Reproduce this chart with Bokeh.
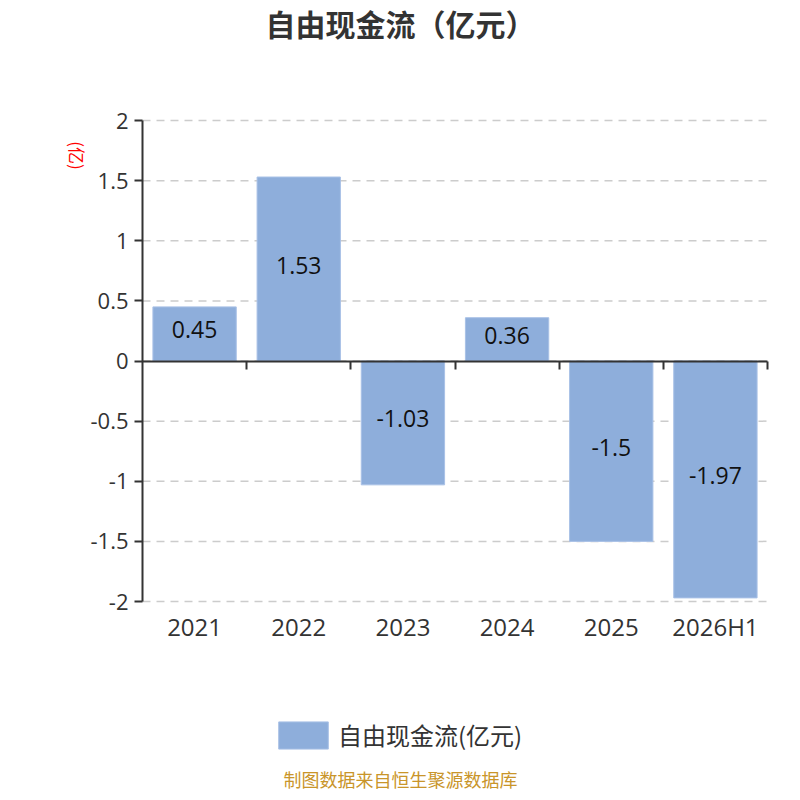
from bokeh.plotting import figure
from bokeh.models import (ColumnDataSource, Range1d, FixedTicker, LinearAxis,
                          Label, Legend, LegendItem)
from bokeh.core.properties import value
from bokeh.embed import file_html
from bokeh.resources import INLINE

categories = ["2021", "2022", "2023", "2024", "2025", "2026H1"]
values = [0.45, 1.53, -1.03, 0.36, -1.5, -1.97]
value_labels = ["0.45", "1.53", "-1.03", "0.36", "-1.5", "-1.97"]
y_ticks = [-2, -1.5, -1, -0.5, 0, 0.5, 1, 1.5, 2]
y_tick_labels = {-2: "-2", -1.5: "-1.5", -1: "-1", -0.5: "-0.5", 0: "0",
                 0.5: "0.5", 1: "1", 1.5: "1.5", 2: "2"}

CJK = "Noto Sans CJK SC"
NUM = "Open Sans"
BAR = "#8eaedb"
AX = "#333333"

W, H = 784, 792
idx = list(range(len(categories)))
n = len(categories)
src = ColumnDataSource(dict(x=idx, val=values, lab=value_labels,
                            mid=[v / 2 for v in values]))

# frame covers the whole canvas; the plot area (categories, -2..2) sits inside it
PL, PR, PT, PB = 142, 767, 120, 601
px_per_cat = (PR - PL) / n
px_per_unit = (PB - PT) / 4
x_lo = -0.5 - PL / px_per_cat
x_hi = n - 0.5 + (W - PR) / px_per_cat
y_hi = 2 + PT / px_per_unit
y_lo = -2 - (H - PB) / px_per_unit

p = figure(x_range=Range1d(x_lo, x_hi), y_range=Range1d(y_lo, y_hi),
           frame_width=W, frame_height=H, output_backend="svg", toolbar_location=None,
           x_axis_location=None, y_axis_location=None,
           min_border=0)
p.outline_line_color = None
p.background_fill_color = "white"
p.border_fill_color = "white"
p.grid.visible = False

# dashed value grid lines across the plot area
p.segment(x0=[-0.5] * len(y_ticks), x1=[n - 0.5] * len(y_ticks), y0=y_ticks, y1=y_ticks,
          line_color="#cccccc", line_width=1.5, line_dash="8 6")

r = p.vbar(x="x", top="val", bottom=0, width=0.8, source=src,
           fill_color=BAR, line_color="#a9c1e6", line_width=1)

p.text(x="x", y="mid", text="lab", source=src, text_align="center",
       text_baseline="middle", text_font=value(NUM), text_font_size="23px",
       text_color="#111111", y_offset=-4)

# y axis
yax = LinearAxis(fixed_location=-0.5, bounds=(-2, 2), ticker=FixedTicker(ticks=y_ticks),
                 major_label_overrides=y_tick_labels)
yax.major_label_text_font = NUM
yax.major_label_text_font_size = "22px"
yax.major_label_text_color = AX
yax.axis_line_color = AX
yax.axis_line_width = 2
yax.major_tick_line_color = AX
yax.major_tick_line_width = 2
yax.major_tick_in = 0
yax.major_tick_out = 8
yax.minor_tick_line_color = None
yax.major_label_standoff = 6
p.add_layout(yax, "left")

# category labels below the plot area
xax = LinearAxis(fixed_location=-2, ticker=FixedTicker(ticks=idx),
                 major_label_overrides={i: c for i, c in zip(idx, categories)})
xax.axis_line_color = None
xax.major_tick_line_color = None
xax.minor_tick_line_color = None
xax.major_label_text_font = NUM
xax.major_label_text_font_size = "24px"
xax.major_label_text_color = AX
xax.major_label_standoff = 2
p.add_layout(xax, "below")

# zero line with ticks at category boundaries
zax = LinearAxis(fixed_location=0, bounds=(-0.5, n - 0.5),
                 ticker=FixedTicker(ticks=[i + 0.5 for i in idx]))
zax.axis_line_color = AX
zax.axis_line_width = 2
zax.major_tick_line_color = AX
zax.major_tick_line_width = 2
zax.major_tick_in = 0
zax.major_tick_out = 8
zax.minor_tick_line_color = None
zax.major_label_text_font_size = "0px"
zax.major_label_text_color = None
p.add_layout(zax, "below")

# y unit label
p.add_layout(Label(x=77, y=H - 155, x_units="screen", y_units="screen", text="(亿)",
                   angle=-90, angle_units="deg", text_color="red",
                   text_font_size="17px", text_font=CJK,
                   text_align="center", text_baseline="middle"))

# title
p.add_layout(Label(x=400, y=H - 22, x_units="screen", y_units="screen",
                   text="自由现金流（亿元）", text_font=CJK, text_font_size="30px",
                   text_font_style="bold", text_color=AX,
                   text_align="center", text_baseline="middle"))

# legend
legend = Legend(items=[LegendItem(label="自由现金流(亿元)", renderers=[r])],
                orientation="horizontal", location=(272, H - 752),
                label_text_font=CJK, label_text_font_size="24px",
                label_text_color=AX, glyph_width=62, glyph_height=34,
                border_line_color=None, background_fill_alpha=0,
                margin=0, padding=0, label_standoff=4, spacing=0,
                label_height=34)
p.add_layout(legend, "center")

# source
p.add_layout(Label(x=400, y=H - 778, x_units="screen", y_units="screen",
                   text="制图数据来自恒生聚源数据库", text_font=CJK,
                   text_font_size="18px", text_color="#c9952a",
                   text_align="center", text_baseline="middle"))

open("out.html", "w").write(file_html(p, INLINE))
